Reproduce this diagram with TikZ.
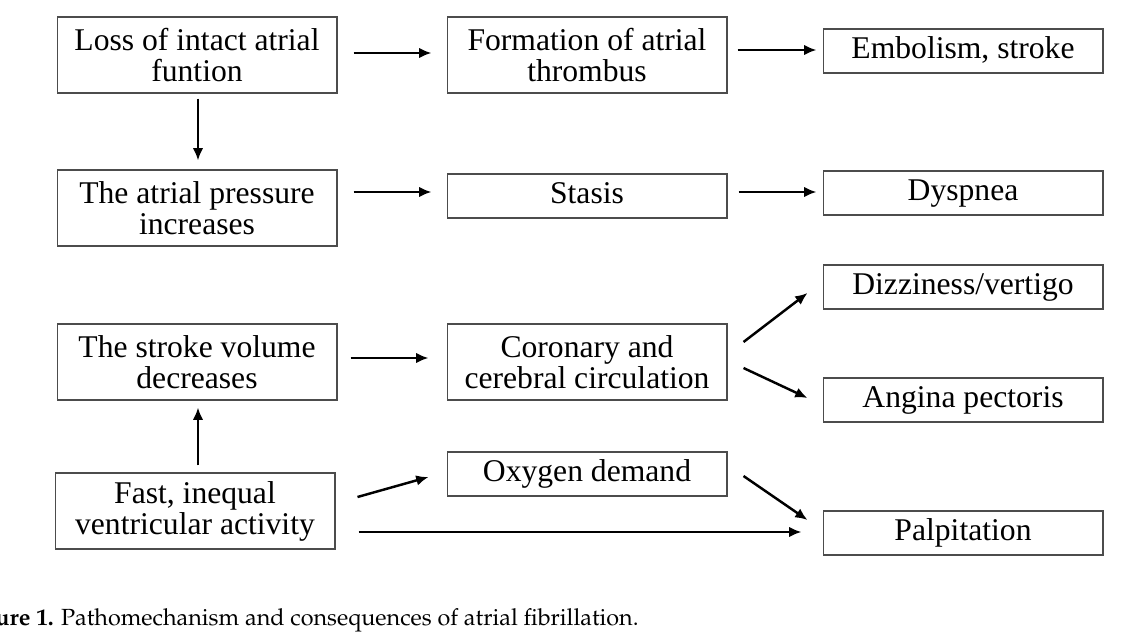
\documentclass[tikz,border=0pt]{standalone}
\usepackage[T1]{fontenc}
\usepackage{fontspec}
\setmainfont{Liberation Serif}
\usetikzlibrary{arrows.meta}
\begin{document}
\begin{tikzpicture}[x=0.02cm, y=-0.02cm,
    box/.style={draw=black!70, line width=0.6pt, minimum width=5.6cm, inner sep=0pt, align=center,
      font=\fontsize{18}{17.6}\selectfont},
    tall/.style={box, minimum height=1.52cm},
    flat/.style={box, minimum height=0.88cm, text height=12.6pt, text depth=3.6pt},
    flow/.style={-{Latex[length=7pt,width=6pt]}, line width=1.4pt}]
    \useasboundingbox (0,0) rectangle (1138,639);
    % Left column
    \node[tall] (loss)   at (197,55)  {Loss of intact atrial\\funtion};
    \node[tall] (press)  at (197,208) {The atrial pressure\\increases};
    \node[tall] (svol)   at (197,362) {The stroke volume\\decreases};
    \node[tall] (fast)   at (195,511) {Fast, inequal\\ventricular activity};
    % Middle column
    \node[tall] (thromb) at (587,55)  {Formation of atrial\\thrombus};
    \node[flat] (stasis) at (587,196) {Stasis};
    \node[tall] (circ)   at (587,362) {Coronary and\\cerebral circulation};
    \node[flat] (oxy)    at (587,474) {Oxygen demand};
    % Right column
    \node[flat] (emb)    at (963,51)  {Embolism, stroke};
    \node[flat] (dysp)   at (963,193) {Dyspnea};
    \node[flat] (dizz)   at (963,287) {Dizziness/vertigo};
    \node[flat] (ang)    at (963,400) {Angina pectoris};
    \node[flat] (palp)   at (963,533) {Palpitation};
    % Horizontal arrows
    \draw[flow] ([shift={(16,-2)}]loss.east) -- ([shift={(-15,-2)}]thromb.west);
    \draw[flow] ([shift={(10,-5)}]thromb.east) -- ([shift={(-6,-1)}]emb.west);
    \draw[flow] ([shift={(16,-16)}]press.east) -- ([shift={(-15,-4)}]stasis.west);
    \draw[flow] ([shift={(11,-4)}]stasis.east) -- ([shift={(-6,-1)}]dysp.west);
    \draw[flow] ([shift={(13,-4)}]svol.east) -- ([shift={(-18,-4)}]circ.west);
    \draw[flow] ([shift={(23,21)}]fast.east) -- ([shift={(-21,-1)}]palp.west);
    % Vertical arrows
    \draw[flow] ([shift={(1,5)}]loss.south) -- ([shift={(1,-9)}]press.north);
    \draw[flow] ([shift={(3,-7)}]fast.north) -- ([shift={(1,7)}]svol.south);
    % Diagonal arrows
    \draw[flow] ([shift={(16,-20)}]circ.east) -- ([shift={(-15,6)}]dizz.west);
    \draw[flow] ([shift={(16,6)}]circ.east) -- ([shift={(-15,-2)}]ang.west);
    \draw[flow] ([shift={(22,-14)}]fast.east) -- ([shift={(-18,3)}]oxy.west);
    \draw[flow] ([shift={(16,2)}]oxy.east) -- ([shift={(-15,-13)}]palp.west);
    % Caption
    \node[anchor=base east, inner sep=0pt, font=\fontencoding{T1}\fontfamily{ppl}\fontsize{13.3}{15}\selectfont]
      (cap) at (639,625) {\textbf{Figure 1.} Pathomechanism and consequences of atrial fibrillation.};
\end{tikzpicture}
\end{document}
